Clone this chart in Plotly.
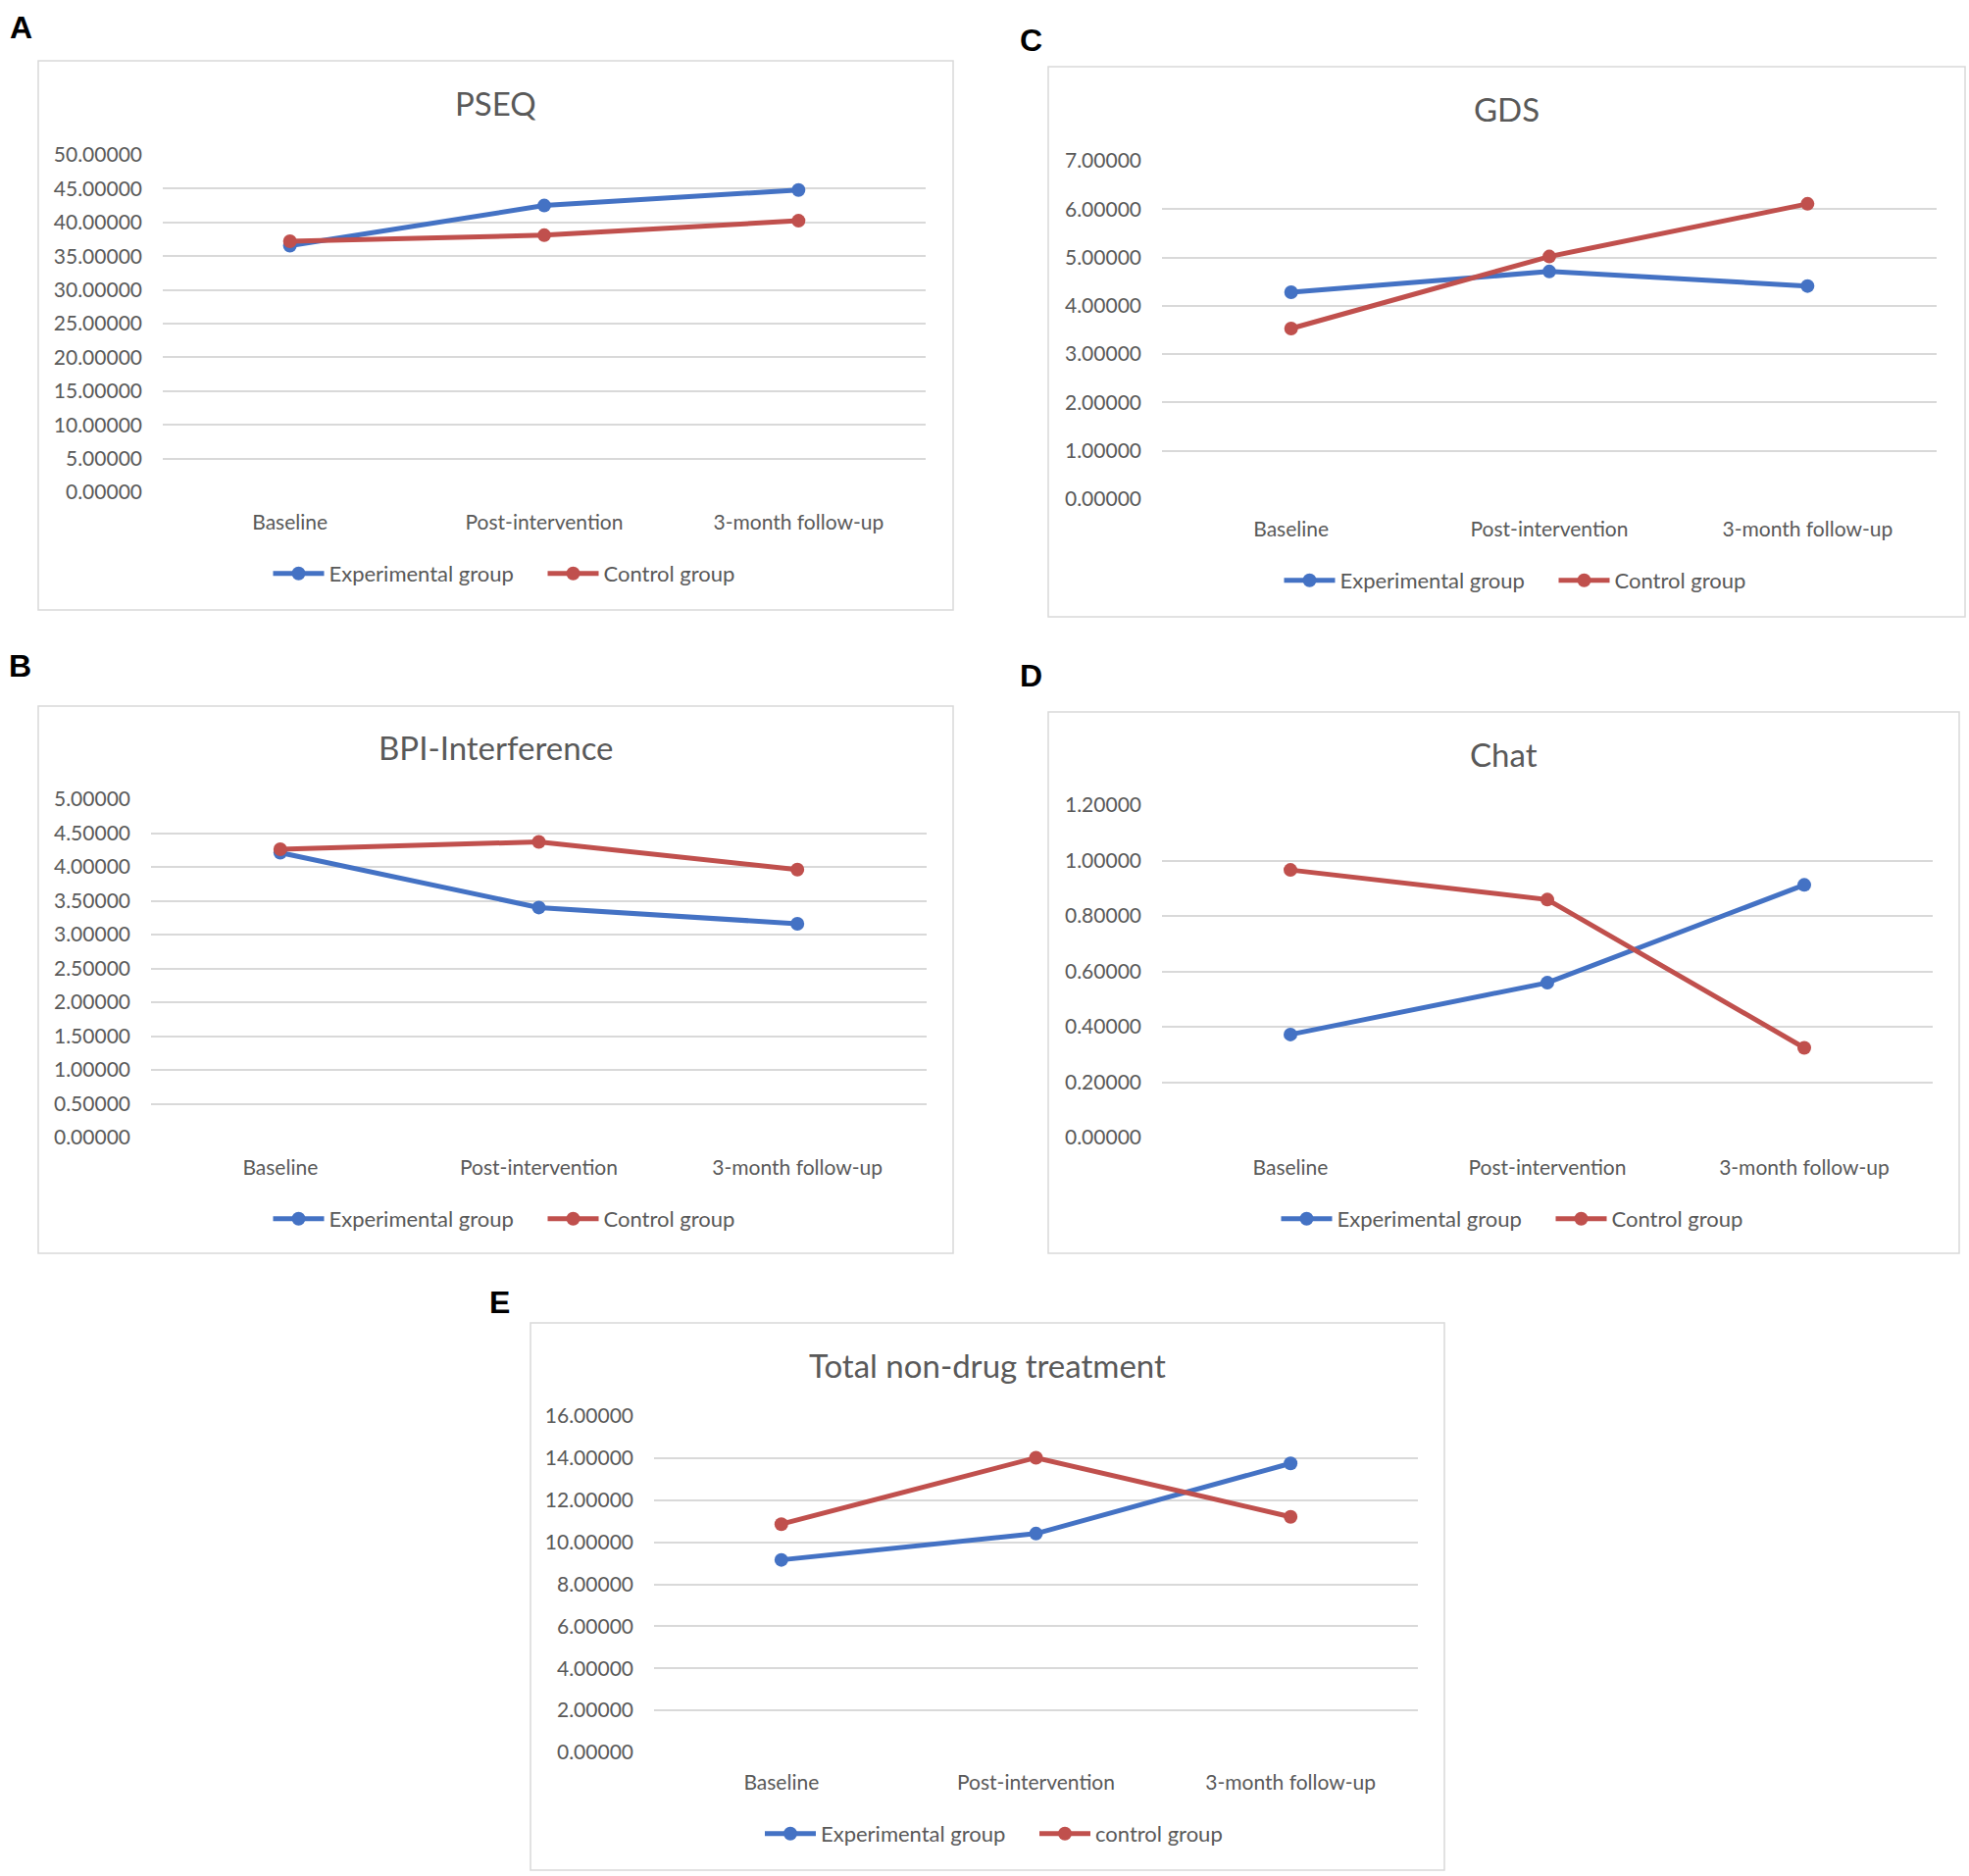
import plotly.graph_objects as go

W, H = 2008, 1913

categories = ["Baseline", "Post-intervention", "3-month follow-up"]

pseq_exp = [36.55, 42.50, 44.80]
pseq_ctl = [37.20, 38.10, 40.25]

bpi_exp = [4.21, 3.40, 3.16]
bpi_ctl = [4.26, 4.37, 3.96]

gds_exp = [4.28, 4.71, 4.41]
gds_ctl = [3.53, 5.02, 6.11]

chat_exp = [0.372, 0.559, 0.912]
chat_ctl = [0.966, 0.859, 0.324]

total_exp = [9.16, 10.41, 13.75]
total_ctl = [10.86, 14.02, 11.21]

titles = ["PSEQ", "BPI-Interference", "GDS", "Chat", "Total non-drug treatment"]
panel_letters = ["A", "B", "C", "D", "E"]
exp_names = ["Experimental group"] * 5
ctl_names = ["Control group", "Control group", "Control group", "Control group", "control group"]
y_max = [50, 5, 7, 1.2, 16]
y_step = [5, 0.5, 1, 0.2, 2]
series_exp = [pseq_exp, bpi_exp, gds_exp, chat_exp, total_exp]
series_ctl = [pseq_ctl, bpi_ctl, gds_ctl, chat_ctl, total_ctl]

BLUE = "#4472C4"
RED = "#C0504D"
GRID = "#D9D9D9"
TXT = "#595959"
FONT = "Lato"

# layout geometry in pixels
panels = [
    dict(px=(166, 944), py=(158, 502), box=(39, 62, 972, 622), ty=105, ly=585, lab=(21, 28)),
    dict(px=(154, 945), py=(815, 1160), box=(39, 720, 972, 1278), ty=762, ly=1243, lab=(20, 679)),
    dict(px=(1185, 1975), py=(164, 509), box=(1069, 68, 2004, 629), ty=111, ly=592, lab=(1051, 41)),
    dict(px=(1185, 1971), py=(821, 1160), box=(1069, 726, 1998, 1278), ty=769, ly=1243, lab=(1051, 689)),
    dict(px=(667, 1446), py=(1444, 1787), box=(541, 1349, 1473, 1907), ty=1392, ly=1870, lab=(509, 1328)),
]

def fx(x):
    return x / W

def fy(y):
    return 1 - y / H

fig = go.Figure()
layout = dict(
    width=W, height=H,
    margin=dict(l=0, r=0, t=0, b=0, autoexpand=False),
    paper_bgcolor="white", plot_bgcolor="white",
    font=dict(family=FONT, color=TXT, size=21),
    showlegend=True,
)
shapes = []
annotations = []

for i, p in enumerate(panels):
    n = i + 1
    xa = "x" if n == 1 else f"x{n}"
    ya = "y" if n == 1 else f"y{n}"
    lg = "legend" if n == 1 else f"legend{n}"
    xkey = "xaxis" if n == 1 else f"xaxis{n}"
    ykey = "yaxis" if n == 1 else f"yaxis{n}"

    for name, vals, col in [(exp_names[i], series_exp[i], BLUE), (ctl_names[i], series_ctl[i], RED)]:
        fig.add_trace(go.Scatter(
            x=categories, y=vals, name=name, mode="lines+markers",
            line=dict(color=col, width=5),
            marker=dict(color=col, size=14),
            xaxis=xa, yaxis=ya, legend=lg, cliponaxis=False,
            hoverinfo="skip",
        ))

    nt = int(round(y_max[i] / y_step[i]))
    tv = [k * y_step[i] for k in range(nt + 1)]
    layout[xkey] = dict(
        domain=[fx(p["px"][0]), fx(p["px"][1])],
        anchor=ya, type="category", range=[-0.5, 2.5],
        showgrid=False, showline=False, zeroline=False,
        ticks="", ticklabelstandoff=16,
        tickfont=dict(size=21, color=TXT, family=FONT),
        fixedrange=True,
    )
    layout[ykey] = dict(
        domain=[fy(p["py"][1]), fy(p["py"][0])],
        anchor=xa, range=[0, y_max[i] * 1.00001],
        tickvals=tv, tickformat=".5f",
        showgrid=True, gridcolor=GRID, gridwidth=1.5,
        showline=False, zeroline=False,
        ticks="", ticklabelstandoff=20,
        tickfont=dict(size=21, color=TXT, family=FONT),
        fixedrange=True,
    )
    bx0, by0, bx1, by1 = p["box"]
    cx = (bx0 + bx1) / 2
    shapes.append(dict(type="rect", xref="paper", yref="paper",
                       x0=fx(bx0), x1=fx(bx1), y0=fy(by1), y1=fy(by0),
                       line=dict(color=GRID, width=1.5), fillcolor="rgba(0,0,0,0)", layer="below"))
    annotations.append(dict(text=titles[i], xref="paper", yref="paper",
                            x=fx(cx), y=fy(p["ty"]), xanchor="center", yanchor="middle",
                            showarrow=False, font=dict(size=33, color=TXT, family=FONT)))
    annotations.append(dict(text=f"<b>{panel_letters[i]}</b>", xref="paper", yref="paper",
                            x=fx(p["lab"][0]), y=fy(p["lab"][1]), xanchor="center", yanchor="middle",
                            showarrow=False, font=dict(size=32, color="black", family="Liberation Sans")))
    layout[lg] = dict(
        orientation="h", x=fx(cx + 48), y=fy(p["ly"]), xanchor="center", yanchor="middle",
        xref="paper", yref="paper",
        font=dict(size=22, color=TXT, family=FONT),
        bgcolor="rgba(0,0,0,0)", itemclick=False, itemdoubleclick=False,
        tracegroupgap=0, itemwidth=52, entrywidth=213, entrywidthmode="pixels",
    )

layout["shapes"] = shapes
layout["annotations"] = annotations
fig.update_layout(**layout)
fig.write_html(
    "out.html",
    config={"displayModeBar": False, "staticPlot": False},
    post_script="document.body.style.margin='0';document.body.style.padding='0';"
                "document.documentElement.style.margin='0';document.documentElement.style.overflow='hidden';",
)
